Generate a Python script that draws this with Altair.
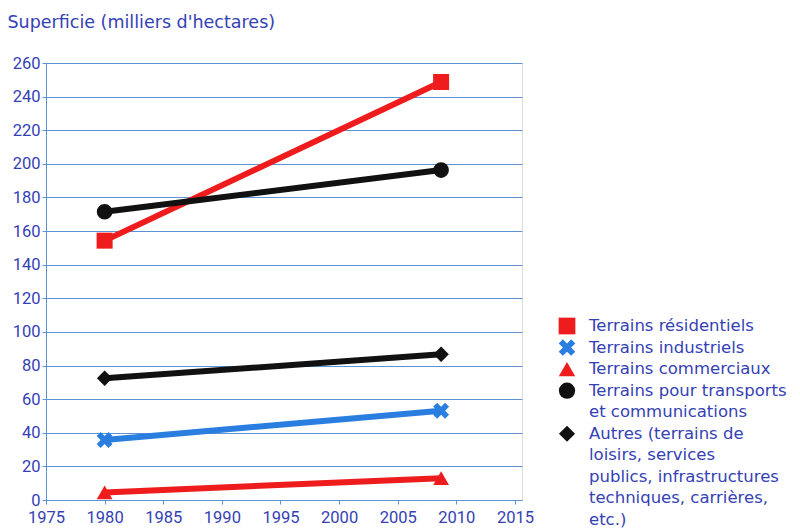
import altair as alt
import pandas as pd

# ---- data ----
annees = [1980, 2008.7]
cles = ["res", "ind", "com", "tra", "aut"]
residentiels = [154.3, 248.7]
industriels = [35.7, 53.1]
commerciaux = [4.5, 13.0]
transports = [171.5, 196.3]
autres = [72.4, 86.7]

x_ticks = [1975, 1980, 1985, 1990, 1995, 2000, 2005, 2010, 2015]
y_ticks = [0, 20, 40, 60, 80, 100, 120, 140, 160, 180, 200, 220, 240, 260]

legende_lignes = [
    "Terrains résidentiels",
    "Terrains industriels",
    "Terrains commerciaux",
    "Terrains pour transports",
    "et communications",
    "Autres (terrains de",
    "loisirs, services",
    "publics, infrastructures",
    "techniques, carrières,",
    "etc.)",
]
legende_serie = ["res", "ind", "com", "tra", "tra", "aut", "aut", "aut", "aut", "aut"]

# ---- styles ----
TXT = "#3441b5"
GRID = "#5b93d3"
couleurs = ["#ee1c1c", "#2a7ee0", "#ee1c1c", "#111111", "#111111"]
X_PATH = "M-1,-0.5L-0.5,-1L0,-0.5L0.5,-1L1,-0.5L0.5,0L1,0.5L0.5,1L0,0.5L-0.5,1L-1,0.5L-0.5,0Z"
formes = ["square", X_PATH, "triangle-up", "circle", "diamond"]
tailles = [256, 240, 330, 290, 230]
tailles_leg = [280, 260, 380, 340, 250]

rows = []
for k, vals in zip(cles, [residentiels, industriels, commerciaux, transports, autres]):
    for a, v in zip(annees, vals):
        rows.append({"serie": k, "annee": a, "valeur": v})
df = pd.DataFrame(rows)

color_scale = alt.Scale(domain=cles, range=couleurs)
shape_scale = alt.Scale(domain=cles, range=formes)
size_scale = alt.Scale(domain=cles, range=tailles)
size_scale_leg = alt.Scale(domain=cles, range=tailles_leg)

xscale = alt.Scale(domain=[1975, 2015.6], nice=False, zero=False)
yscale = alt.Scale(domain=[0, 260], nice=False)

base = alt.Chart(df).encode(
    x=alt.X(
        "annee:Q",
        scale=xscale,
        axis=alt.Axis(
            values=x_ticks, format="d", title=None, grid=False,
            labelFlush=False, labelOverlap=False,
            labelFont="Roboto", labelFontSize=16.5, labelColor=TXT,
            labelPadding=5, tickSize=4, tickColor=GRID,
            domainColor=GRID, domainWidth=1,
        ),
    ),
    y=alt.Y(
        "valeur:Q",
        scale=yscale,
        axis=alt.Axis(
            values=y_ticks, title="Superficie (milliers d'hectares)",
            titleAngle=0, titleX=-39, titleY=-41, titleAlign="left",
            titleBaseline="middle", titleFont="DejaVu Sans", titleFontSize=17.5,
            titleFontWeight="normal", titleColor=TXT,
            labelFont="Roboto", labelFontSize=16.5, labelColor=TXT,
            labelPadding=2, tickSize=4, tickColor=GRID,
            domainColor=GRID, domainWidth=1,
            grid=True, gridColor=GRID, gridWidth=1,
        ),
    ),
)

lignes = base.mark_line(strokeWidth=6).encode(
    stroke=alt.Stroke("serie:N", scale=color_scale, legend=None),
    detail="serie:N",
)
points = base.mark_point(filled=True, opacity=1, strokeWidth=0).encode(
    color=alt.Color("serie:N", scale=color_scale, legend=None),
    shape=alt.Shape("serie:N", scale=shape_scale, legend=None),
    size=alt.Size("serie:N", scale=size_scale, legend=None),
)

# ---- custom legend ----
premiere = []
for k in cles:
    premiere.append(legende_serie.index(k))
leg_sym_df = pd.DataFrame({"serie": cles, "ligne": premiere})
leg_txt_df = pd.DataFrame({"texte": legende_lignes, "ligne": list(range(len(legende_lignes)))})

row_scale = alt.Scale(domain=[0, 9], range=[263, 457])

leg_sym = alt.Chart(leg_sym_df).mark_point(filled=True, opacity=1, strokeWidth=0).encode(
    x=alt.value(521),
    y=alt.Y("ligne:Q", scale=row_scale, axis=None),
    color=alt.Color("serie:N", scale=color_scale, legend=None),
    shape=alt.Shape("serie:N", scale=shape_scale, legend=None),
    size=alt.Size("serie:N", scale=size_scale_leg, legend=None),
)
leg_txt = alt.Chart(leg_txt_df).mark_text(
    align="left", baseline="middle", font="DejaVu Sans", fontSize=16.5, color=TXT
).encode(
    x=alt.value(543),
    y=alt.Y("ligne:Q", scale=row_scale, axis=None),
    text="texte:N",
)

main = alt.layer(lignes, points)
legende = alt.layer(leg_sym, leg_txt).resolve_scale(size="independent")

chart = (
    alt.layer(main, legende)
    .resolve_scale(y="independent", size="independent")
    .properties(
        width=476,
        height=437,
        autosize=alt.AutoSizeParams(type="none"),
        padding={"left": 38, "top": 55, "right": 270, "bottom": 30},
    )
    .configure_view(strokeWidth=0)
    .configure(background="white")
)

chart.save("out.html", embed_options={"renderer": "svg", "actions": False})
